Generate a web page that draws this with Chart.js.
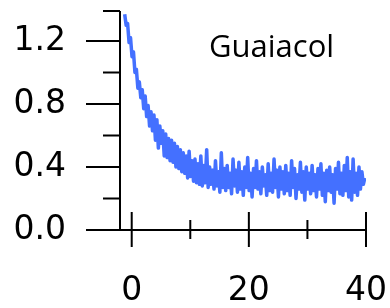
<!DOCTYPE html>
<html>
<head>
<meta charset="utf-8">
<script src="https://cdn.jsdelivr.net/npm/chart.js@4.4.1/dist/chart.umd.min.js"></script>
<style>
  html, body { margin: 0; padding: 0; background: #fff; }
  #wrap { width: 390px; height: 308px; position: relative; }
</style>
</head>
<body>
<div id="wrap"><canvas id="chart"></canvas></div>
<script>
// sample times: first sample and spacing (same units as x axis)
const tStart = -1.2;
const tStep = 0.25;

// measured signal, one value per sample
const signal = [
    1.37, 1.30, 1.31, 1.19, 1.22, 1.10, 1.13, 1.00, 1.02, 0.90,
    0.94, 0.84, 0.89, 0.77, 0.85, 0.72, 0.79, 0.66, 0.75, 0.63,
    0.73, 0.57, 0.70, 0.52, 0.66, 0.55, 0.63, 0.47, 0.61, 0.46,
    0.58, 0.44, 0.57, 0.43, 0.55, 0.40, 0.53, 0.39, 0.51, 0.37,
    0.49, 0.36, 0.47, 0.33, 0.50, 0.34, 0.44, 0.31, 0.45, 0.30,
    0.42, 0.29, 0.47, 0.28, 0.41, 0.30, 0.51, 0.27, 0.40, 0.29,
    0.38, 0.26, 0.44, 0.28, 0.37, 0.24, 0.49, 0.27, 0.39, 0.25,
    0.41, 0.27, 0.36, 0.23, 0.45, 0.28, 0.38, 0.24, 0.43, 0.26,
    0.37, 0.22, 0.40, 0.27, 0.46, 0.25, 0.36, 0.21, 0.39, 0.27,
    0.44, 0.26, 0.37, 0.23, 0.40, 0.28, 0.35, 0.22, 0.42, 0.25,
    0.36, 0.24, 0.45, 0.27, 0.38, 0.21, 0.40, 0.26, 0.37, 0.23,
    0.41, 0.25, 0.36, 0.22, 0.44, 0.27, 0.39, 0.20, 0.35, 0.26,
    0.43, 0.24, 0.37, 0.19, 0.40, 0.26, 0.36, 0.23, 0.41, 0.25,
    0.35, 0.21, 0.39, 0.26, 0.42, 0.22, 0.36, 0.18, 0.38, 0.25,
    0.40, 0.24, 0.35, 0.17, 0.39, 0.26, 0.43, 0.23, 0.36, 0.22,
    0.41, 0.25, 0.46, 0.21, 0.37, 0.19, 0.45, 0.24, 0.36, 0.22,
    0.40, 0.26, 0.37, 0.29, 0.33
];

// axis ticks
const xMajor = [0, 20, 40];
const xMinor = [10, 30];
const yMajor = [0, 0.4, 0.8, 1.2];
const yMinor = [0.2, 0.6, 1.0];
const xRange = [-2, 40];
const yRange = [0, 1.39];

const chartTitle = 'Guaiacol';
const FONT = '"DejaVu Sans", Verdana, sans-serif';

const points = signal.map((v, i) => ({ x: tStart + i * tStep, y: v }));

// labels may hang outside the plot, so don't let them shrink it
function fixBox(s, w, h) {
    if (w) s.width = w;
    if (h) s.height = h;
    s.paddingTop = s.paddingBottom = s.paddingLeft = s.paddingRight = 0;
}

// draws the axis lines, crossing ticks and the label in the corner
const axesPlugin = {
    id: 'axesPlugin',
    afterDraw(chart) {
        const ctx = chart.ctx;
        const xs = chart.scales.x;
        const ys = chart.scales.y;
        const left = xs.getPixelForValue(xRange[0]);
        const right = xs.getPixelForValue(xRange[1]);
        const bottom = ys.getPixelForValue(0);
        const top = ys.getPixelForValue(yRange[1]);

        ctx.save();
        ctx.strokeStyle = '#000';
        ctx.lineWidth = 2;
        ctx.lineCap = 'butt';
        ctx.beginPath();
        // axis lines
        ctx.moveTo(left, top);
        ctx.lineTo(left, bottom);
        ctx.moveTo(left, bottom);
        ctx.lineTo(right, bottom);
        // y ticks point outwards
        yMajor.forEach(v => {
            const y = ys.getPixelForValue(v);
            ctx.moveTo(left - 34, y);
            ctx.lineTo(left, y);
        });
        yMinor.concat([yRange[1]]).forEach(v => {
            const y = ys.getPixelForValue(v);
            ctx.moveTo(left - 17, y);
            ctx.lineTo(left, y);
        });
        // x ticks cross the axis
        xMajor.forEach(v => {
            const x = xs.getPixelForValue(v);
            ctx.moveTo(x, bottom - 18);
            ctx.lineTo(x, bottom + 17);
        });
        xMinor.forEach(v => {
            const x = xs.getPixelForValue(v);
            ctx.moveTo(x, bottom - 10);
            ctx.lineTo(x, bottom + 9);
        });
        ctx.stroke();

        ctx.fillStyle = '#000';
        ctx.font = '31px "Open Sans", sans-serif';
        ctx.textAlign = 'left';
        ctx.textBaseline = 'alphabetic';
        ctx.fillText(chartTitle, 209, 57);
        ctx.restore();
    }
};

new Chart(document.getElementById('chart'), {
    type: 'line',
    data: {
        datasets: [{
            data: points,
            borderColor: '#4470ff',
            borderWidth: 3.5,
            borderJoinStyle: 'round',
            pointRadius: 0,
            tension: 0,
            fill: false
        }]
    },
    options: {
        responsive: true,
        maintainAspectRatio: false,
        animation: false,
        layout: { padding: { top: 11, right: 24, left: 0, bottom: 0 } },
        plugins: {
            legend: { display: false },
            tooltip: { enabled: false }
        },
        scales: {
            x: {
                type: 'linear',
                min: xRange[0],
                max: xRange[1],
                grid: { display: false, drawTicks: false },
                border: { display: false },
                afterBuildTicks: s => { s.ticks = xMajor.map(v => ({ value: v })); },
                afterFit: s => fixBox(s, 0, 78),
                ticks: {
                    autoSkip: false,
                    maxRotation: 0,
                    padding: 42,
                    color: '#000',
                    font: { family: FONT, size: 33 },
                    callback: v => String(v)
                }
            },
            y: {
                min: yRange[0],
                max: yRange[1],
                grid: { display: false, drawTicks: false },
                border: { display: false },
                afterBuildTicks: s => { s.ticks = yMajor.map(v => ({ value: v })); },
                afterFit: s => fixBox(s, 120, 0),
                ticks: {
                    autoSkip: false,
                    padding: 54,
                    color: '#000',
                    font: { family: FONT, size: 33 },
                    callback: v => v.toFixed(1)
                }
            }
        }
    },
    plugins: [axesPlugin]
});
</script>
</body>
</html>
